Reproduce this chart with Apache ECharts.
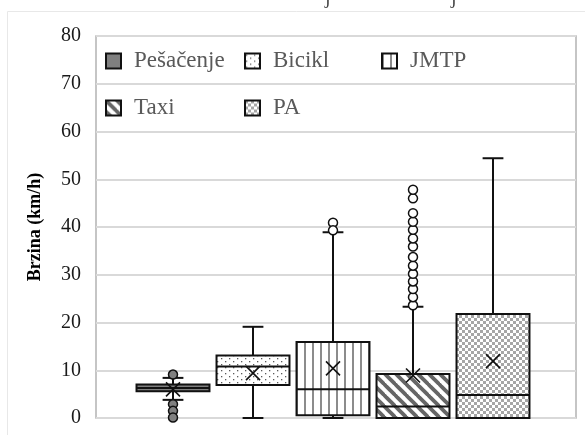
<!DOCTYPE html>
<html>
<head>
<meta charset="utf-8">
<script src="https://cdn.jsdelivr.net/npm/echarts@6/dist/echarts.min.js"></script>
<style>html,body{margin:0;padding:0;background:#fff}#c{width:585px;height:435px}</style>
</head>
<body>
<div id="c"></div>
<script>
// ---- data ----
const categories = ['Pešačenje', 'Bicikl', 'JMTP', 'Taxi', 'PA'];
const mins    = [3.8, 0.0, 0.0, 0.0, 0.0];
const q1s     = [5.6, 6.9, 0.6, 0.0, 0.0];
const medians = [6.3, 10.8, 6.0, 2.4, 4.8];
const q3s     = [7.0, 13.1, 15.9, 9.2, 21.8];
const maxs    = [8.4, 19.1, 38.9, 23.3, 54.4];
const means   = [6.0, 9.4, 10.4, 8.9, 11.9];
const outliersPesacenje = [9.1, 2.9, 1.5, 0.1];
const outliersBicikl = [];
const outliersJMTP = [40.9, 39.3];
const outliersTaxi = [23.6, 25.3, 27.0, 28.6, 30.2, 31.9, 33.7, 35.9, 37.6, 39.4, 41.1, 42.9, 46.0, 47.8];
const outliersPA = [];
const outliers = [outliersPesacenje, outliersBicikl, outliersJMTP, outliersTaxi, outliersPA];
const yTicks = { min: 0, max: 80, interval: 10 };
const yTitle = 'Brzina (km/h)';

// ---- patterns ----
function makePattern(w, h, draw) {
  const c = document.createElement('canvas');
  c.width = w; c.height = h;
  const ctx = c.getContext('2d');
  ctx.fillStyle = '#fff'; ctx.fillRect(0, 0, w, h);
  draw(ctx, w, h);
  return { image: c, repeat: 'repeat' };
}
const patterns = [
  '#7f7f7f',
  makePattern(8, 6, (ctx) => { ctx.fillStyle = '#5a5a5a'; ctx.fillRect(1, 1, 1.3, 1.3); ctx.fillRect(5, 4, 1.3, 1.3); }),
  makePattern(8, 2, (ctx) => { ctx.fillStyle = '#8c8c8c'; ctx.fillRect(0, 0, 2, 2); }),
  makePattern(11, 11, (ctx, w) => {
    ctx.strokeStyle = '#666'; ctx.lineWidth = 3.8;
    for (const k of [-w, 0, w]) { ctx.beginPath(); ctx.moveTo(k - 1, -1); ctx.lineTo(k + w + 1, w + 1); ctx.stroke(); }
  }),
  makePattern(6, 6, (ctx) => { ctx.fillStyle = '#a6a6a6'; ctx.fillRect(0, 0, 3, 3); ctx.fillRect(3, 3, 3, 3); })
];

const STROKE = '#111';
function renderBox(params, api) {
  const x = api.value(0);
  const lo = api.coord([x, api.value(1)]);
  const q1 = api.coord([x, api.value(2)]);
  const md = api.coord([x, api.value(3)]);
  const q3 = api.coord([x, api.value(4)]);
  const hi = api.coord([x, api.value(5)]);
  const mn = api.coord([x, api.value(6)]);
  const band = api.size([1, 0])[0];
  const hw = band * 0.456;
  const cw = band * 0.13;
  const cx = lo[0];
  const ls = { stroke: STROKE, lineWidth: 2 };
  const xs = 7;
  const idx = params.seriesIndex;
  return {
    type: 'group',
    children: [
      { type: 'line', shape: { x1: cx, y1: lo[1], x2: cx, y2: q1[1] }, style: ls },
      { type: 'line', shape: { x1: cx, y1: q3[1], x2: cx, y2: hi[1] }, style: ls },
      { type: 'line', shape: { x1: cx - cw, y1: lo[1], x2: cx + cw, y2: lo[1] }, style: ls },
      { type: 'line', shape: { x1: cx - cw, y1: hi[1], x2: cx + cw, y2: hi[1] }, style: ls },
      { type: 'rect', shape: { x: cx - hw, y: q3[1], width: 2 * hw, height: q1[1] - q3[1] },
        style: { fill: patterns[idx], stroke: STROKE, lineWidth: 2 } },
      { type: 'line', shape: { x1: cx - hw, y1: md[1], x2: cx + hw, y2: md[1] }, style: ls },
      { type: 'line', shape: { x1: cx - xs, y1: mn[1] - xs, x2: cx + xs, y2: mn[1] + xs }, style: { stroke: STROKE, lineWidth: 1.6 } },
      { type: 'line', shape: { x1: cx - xs, y1: mn[1] + xs, x2: cx + xs, y2: mn[1] - xs }, style: { stroke: STROKE, lineWidth: 1.6 } }
    ]
  };
}

const series = [];
categories.forEach((name, i) => {
  series.push({
    name: name,
    type: 'custom',
    xAxisIndex: 1, yAxisIndex: 1,
    renderItem: renderBox,
    itemStyle: { color: patterns[i], borderColor: STROKE, borderWidth: 2 },
    encode: { x: 0, y: [1, 2, 3, 4, 5, 6] },
    data: [[i, mins[i], q1s[i], medians[i], q3s[i], maxs[i], means[i]]],
    z: 2,
    silent: true
  });
});
categories.forEach((name, i) => {
  if (!outliers[i].length) return;
  series.push({
    name: name,
    type: 'scatter',
    xAxisIndex: 1, yAxisIndex: 1,
    symbol: 'circle',
    symbolSize: 9,
    itemStyle: { color: i === 0 ? '#808080' : '#fff', borderColor: STROKE, borderWidth: 1.5, opacity: 1 },
    data: outliers[i].map(v => [i, v]),
    z: 3,
    silent: true
  });
});

const legendBase = {
  orient: 'vertical',
  itemWidth: 15, itemHeight: 15,
  itemGap: 23,
  icon: 'rect',
  selectedMode: false,
  itemStyle: { borderColor: STROKE, borderWidth: 2 },
  textStyle: { fontFamily: 'Liberation Serif', fontSize: 23, color: '#595959', lineHeight: 24, padding: [0, 0, 0, 8] }
};

const chart = echarts.init(document.getElementById('c'), null, { renderer: 'canvas' });
chart.setOption({
  animation: false,
  backgroundColor: '#fff',
  graphic: [
    { type: 'rect', shape: { x: 7.5, y: 11.5, width: 640, height: 500 }, style: { fill: 'none', stroke: '#e8e8e8', lineWidth: 1 }, silent: true },
    { type: 'text', x: 325, y: 8, style: { text: 'j', font: '20px Liberation Serif', fill: '#444', verticalAlign: 'bottom' }, silent: true },
    { type: 'text', x: 451, y: 8, style: { text: 'j', font: '20px Liberation Serif', fill: '#444', verticalAlign: 'bottom' }, silent: true }
  ],
  legend: [
    Object.assign({}, legendBase, { data: ['Pešačenje', 'Taxi'], left: 100, top: 44 }),
    Object.assign({}, legendBase, { data: ['Bicikl', 'PA'], left: 239, top: 44 }),
    Object.assign({}, legendBase, { data: ['JMTP'], left: 376, top: 44 })
  ],
  grid: [
    { left: 96, top: 36, width: 480, height: 382, show: true, borderColor: '#b3b3b3', borderWidth: 1.5, backgroundColor: 'transparent' },
    { left: 133, top: 36, width: 400, height: 382 }
  ],
  xAxis: [
    { type: 'category', gridIndex: 0, data: [''], axisLine: { show: false }, axisTick: { show: false }, axisLabel: { show: false }, splitLine: { show: false } },
    { type: 'category', gridIndex: 1, data: categories, show: false }
  ],
  yAxis: [
    {
      type: 'value', gridIndex: 0, min: yTicks.min, max: yTicks.max, interval: yTicks.interval,
      axisLine: { show: false }, axisTick: { show: false },
      splitLine: { lineStyle: { color: '#d9d9d9', width: 2 } },
      axisLabel: { fontFamily: 'Liberation Serif', fontSize: 20, color: '#1a1a1a', margin: 15 },
      name: yTitle, nameLocation: 'middle', nameRotate: 90, nameGap: 52,
      nameTextStyle: { fontFamily: 'Liberation Serif', fontSize: 18, fontWeight: 'bold', color: '#000' }
    },
    { type: 'value', gridIndex: 1, min: yTicks.min, max: yTicks.max, show: false }
  ],
  series: series
});
</script>
</body>
</html>
